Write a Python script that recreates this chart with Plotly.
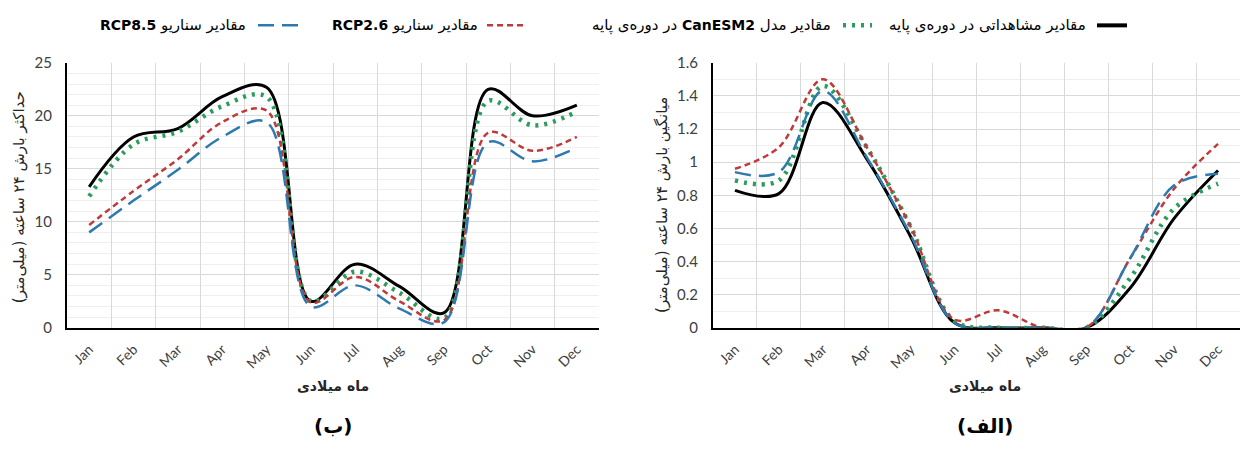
import plotly.graph_objects as go

# ---- data -------------------------------------------------------------
months = ["Jan", "Feb", "Mar", "Apr", "May", "Jun",
          "Jul", "Aug", "Sep", "Oct", "Nov", "Dec"]

# (ب) maximum 24-hour precipitation, mm
obs_max = [13.3, 18.0, 18.8, 21.8, 22.7, 2.5, 6.0, 3.9, 1.4, 22.5, 20.0, 21.0]
can_max = [12.4, 17.3, 18.5, 20.9, 21.8, 2.5, 5.3, 3.3, 0.9, 21.4, 19.1, 20.4]
rcp26_max = [9.7, 12.9, 15.9, 19.4, 20.5, 2.4, 4.8, 2.5, 0.7, 18.4, 16.7, 18.0]
rcp85_max = [9.0, 12.0, 14.9, 18.0, 19.4, 2.0, 4.0, 1.8, 0.5, 17.5, 15.7, 17.0]

# (الف) mean 24-hour precipitation, mm
obs_mean = [0.83, 0.81, 1.36, 1.02, 0.55, 0.03, 0.0, 0.0, 0.0, 0.24, 0.66, 0.95]
can_mean = [0.89, 0.89, 1.46, 1.09, 0.61, 0.04, 0.0, 0.0, 0.0, 0.30, 0.72, 0.87]
rcp26_mean = [0.96, 1.09, 1.50, 1.09, 0.61, 0.05, 0.105, 0.0, 0.0, 0.42, 0.84, 1.11]
rcp85_mean = [0.94, 0.94, 1.43, 1.03, 0.56, 0.03, 0.0, 0.0, 0.0, 0.42, 0.86, 0.93]

LAT_TAG = "<span style='font-size:14px'><b>{}</b></span>"
series_names = [
    "مقادیر مشاهداتی در دوره‌ی پایه",
    "مقادیر مدل " + LAT_TAG.format("CanESM2") + " در دوره‌ی پایه",
    "مقادیر سناریو " + LAT_TAG.format("RCP2.6"),
    "مقادیر سناریو " + LAT_TAG.format("RCP8.5"),
]

panel_labels = ["(ب)", "(الف)"]
x_title = "ماه میلادی"
y_titles = ["حداکثر بارش ۲۴ ساعته (میلی‌متر)", "میانگین بارش ۲۴ ساعته (میلی‌متر)"]

# ---- styling ----------------------------------------------------------
W, H = 1240, 450
FA_FONT = "DejaVu Sans"
LAT_FONT = "Lato, 'Open Sans', sans-serif"

styles = [
    dict(color="#000000", width=3, dash="solid"),
    dict(color="#2a9d5c", width=4.5, dash="3px,6px"),
    dict(color="#c0393b", width=2.5, dash="6px,4px"),
    dict(color="#2e79b0", width=2.5, dash="16px,8px"),
]


def px(x):
    return x / W


def py(y):
    return 1 - y / H


def rtl(s):
    # right-to-left embedding so mixed Persian/Latin text reads correctly
    return "\u202b" + s


fig = go.Figure()

left_sets = [obs_max, can_max, rcp26_max, rcp85_max]
right_sets = [obs_mean, can_mean, rcp26_mean, rcp85_mean]

for vals, st in zip(left_sets, styles):
    fig.add_trace(go.Scatter(x=months, y=vals, mode="lines",
                             line=dict(shape="spline", smoothing=1.0, **st),
                             xaxis="x", yaxis="y", showlegend=False))
for vals, st in zip(right_sets, styles):
    fig.add_trace(go.Scatter(x=months, y=vals, mode="lines",
                             line=dict(shape="spline", smoothing=1.0, **st),
                             xaxis="x2", yaxis="y2", showlegend=False))

y_dom = [py(331), py(55)]

common_x = dict(type="category", tickson="boundaries", showgrid=True,
                gridcolor="#d9d9d9", gridwidth=1, showline=True,
                linecolor="#000000", linewidth=2, tickangle=-45, ticks="",
                ticklabelstandoff=6,
                tickfont=dict(family=LAT_FONT, size=14, color="#404040"),
                range=[-0.5, 11.5], fixedrange=True)
common_y = dict(showgrid=True, gridcolor="#d9d9d9", gridwidth=1,
                showline=True, linecolor="#000000", linewidth=2,
                zeroline=False, ticks="", ticklabelstandoff=10,
                tickfont=dict(family=LAT_FONT, size=15, color="#404040"))

fig.update_layout(
    width=W, height=H,
    margin=dict(l=0, r=0, t=0, b=0),
    paper_bgcolor="white", plot_bgcolor="white",
    showlegend=False,
    xaxis=dict(domain=[px(67), px(599)], anchor="y", **common_x),
    yaxis=dict(domain=y_dom, anchor="x", range=[0, 25], dtick=5,
               minor=dict(dtick=1, showgrid=True, gridcolor="#efefef"),
               **common_y),
    xaxis2=dict(domain=[px(713), 1.0], anchor="y2", **common_x),
    yaxis2=dict(domain=y_dom, anchor="x2", range=[0, 1.6], dtick=0.2,
                minor=dict(dtick=0.1, showgrid=True, gridcolor="#efefef"),
                **common_y),
)

annotations = []
shapes = []

# axis titles and panel labels
for cx, ytx, ytc, ytitle, lab in [(333, 19, 195, y_titles[0], panel_labels[0]),
                                  (985, 662, 203, y_titles[1], panel_labels[1])]:
    annotations.append(dict(x=px(cx), y=py(392), xref="paper", yref="paper",
                            text="<b>" + rtl(x_title) + "</b>", showarrow=False,
                            font=dict(family=FA_FONT, size=14, color="#262626"),
                            xanchor="center", yanchor="middle"))
    annotations.append(dict(x=px(cx), y=py(433), xref="paper", yref="paper",
                            text="<b>" + rtl(lab) + "</b>", showarrow=False,
                            font=dict(family=FA_FONT, size=20, color="#000000"),
                            xanchor="center", yanchor="middle"))
    annotations.append(dict(x=px(ytx), y=py(ytc), xref="paper", yref="paper",
                            text=rtl(ytitle), showarrow=False, textangle=-90,
                            font=dict(family=FA_FONT, size=15, color="#262626"),
                            xanchor="center", yanchor="middle"))

# legend, right-to-left: text on the left of each symbol
leg_y = 16
leg_items = [
    (1088, 1097, 1127, 0),
    (833, 843, 872, 1),
    (480, 487, 527, 2),
    (248, 258, 300, 3),
]
for text_right, s0, s1, i in leg_items:
    st = styles[i]
    annotations.append(dict(x=px(text_right), y=py(leg_y), xref="paper", yref="paper",
                            text=rtl(series_names[i]), showarrow=False,
                            font=dict(family=FA_FONT, size=15, color="#000000"),
                            xanchor="right", yanchor="middle"))
    shapes.append(dict(type="line", xref="paper", yref="paper",
                       x0=px(s0), x1=px(s1), y0=py(leg_y), y1=py(leg_y),
                       line=dict(color=st["color"],
                                 width=st["width"] + (1 if i == 0 else 0),
                                 dash=st["dash"])))

fig.update_layout(annotations=annotations, shapes=shapes)

fig.write_html("out.html")
